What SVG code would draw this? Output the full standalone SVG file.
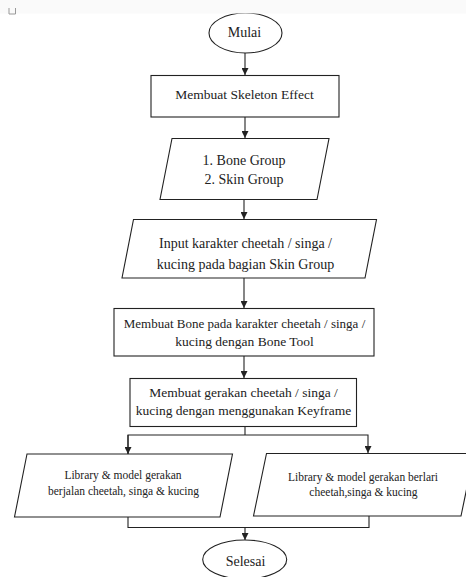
<svg xmlns="http://www.w3.org/2000/svg" width="466" height="577" viewBox="0 0 466 577">
<defs>
<style>
.s{fill:#fff;stroke:#222;stroke-width:1.1}
.t{font-family:"Liberation Serif","Times New Roman",serif;font-size:14px;fill:#222;text-anchor:middle}
.sm{font-size:11.5px}
.c{fill:none;stroke:#222;stroke-width:1.1}
</style>
<marker id="ah" viewBox="0 0 10 10" refX="10" refY="5" markerWidth="7" markerHeight="7" markerUnits="userSpaceOnUse" orient="auto">
<path d="M0,0 L10,5 L0,10 z" fill="#222"/>
</marker>
</defs>
<rect x="0" y="0" width="466" height="577" fill="#fff"/>
<g id="connectors">
<line class="c" x1="245" y1="53" x2="245" y2="75" marker-end="url(#ah)"/>
<line class="c" x1="245" y1="117" x2="245" y2="138" marker-end="url(#ah)"/>
<line class="c" x1="244" y1="199" x2="244" y2="219" marker-end="url(#ah)"/>
<line class="c" x1="244" y1="278" x2="244" y2="308" marker-end="url(#ah)"/>
<line class="c" x1="244" y1="356" x2="244" y2="378" marker-end="url(#ah)"/>
<polyline class="c" points="245,427 245,435"/>
<polyline class="c" points="128,454 128,435 368,435 368,453" marker-end="url(#ah)"/>
<line class="c" x1="128" y1="435" x2="128" y2="454" marker-end="url(#ah)"/>
<polyline class="c" points="128,517 128,527.5 369,527.5 369,516"/>
<line class="c" x1="245" y1="527.5" x2="245" y2="540" marker-end="url(#ah)"/>
</g>
<g id="mulai">
<ellipse class="s" cx="245.5" cy="33" rx="36.5" ry="20"/>
<text class="t" x="244.5" y="37">Mulai</text>
</g>
<g id="skeleton">
<rect class="s" x="151" y="75.5" width="188" height="41.5"/>
<text class="t" x="244.5" y="98.5" style="font-size:13.5px">Membuat Skeleton Effect</text>
</g>
<g id="group">
<polygon class="s" points="172,138.5 329,138.5 317,199.5 160,199.5"/>
<text class="t" x="244" y="164.5">1. Bone Group</text>
<text class="t" x="244" y="184">2. Skin Group</text>
</g>
<g id="input">
<polygon class="s" points="133.5,219.5 376.5,219.5 365,278 122,278"/>
<text class="t" x="245.5" y="248">Input karakter cheetah / singa /</text>
<text class="t" x="245.5" y="269">kucing pada bagian Skin Group</text>
</g>
<g id="bone">
<rect class="s" x="114" y="308.5" width="260" height="47.5"/>
<text class="t" x="244.5" y="327.8" style="font-size:13px">Membuat Bone pada karakter cheetah / singa /</text>
<text class="t" x="244.5" y="346" style="font-size:13.5px">kucing dengan Bone Tool</text>
</g>
<g id="gerakan">
<rect class="s" x="130" y="378.5" width="226.5" height="48"/>
<text class="t" x="243.5" y="397" style="font-size:13.5px">Membuat gerakan cheetah / singa /</text>
<text class="t" x="243.5" y="414.5" style="font-size:13.5px">kucing dengan menggunakan Keyframe</text>
</g>
<g id="berjalan">
<polygon class="s" points="27,454 232.5,454 220,517 14.5,517"/>
<text class="t sm" x="123" y="479">Library &amp; model gerakan</text>
<text class="t sm" x="123.5" y="495">berjalan cheetah, singa &amp; kucing</text>
</g>
<g id="berlari">
<polygon class="s" points="266.5,453.5 474,453.5 461,516 253.5,516"/>
<text class="t sm" x="363" y="480.5">Library &amp; model gerakan berlari</text>
<text class="t sm" x="363.5" y="495.5">cheetah,singa &amp; kucing</text>
</g>
<g id="selesai">
<ellipse class="s" cx="244.7" cy="559.5" rx="42" ry="19.5"/>
<text class="t" x="245.5" y="566">Selesai</text>
</g>
<rect x="0" y="0" width="466" height="13.5" fill="#fafafa"/>
<polyline points="9,8 9,14 15.5,14 15.5,8" fill="none" stroke="#999" stroke-width="1"/>
</svg>
